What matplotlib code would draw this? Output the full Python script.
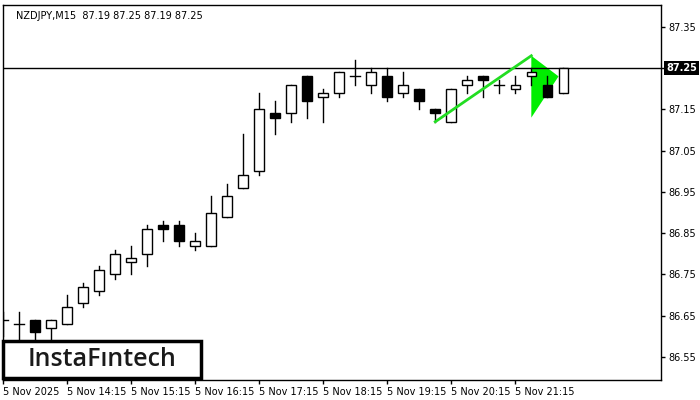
import matplotlib.pyplot as plt
from matplotlib.patches import Rectangle, Polygon

# OHLC data, one candle per 15 minutes starting 5 Nov 13:15
opens = [86.64, 86.63, 86.64, 86.62, 86.63, 86.68, 86.71, 86.75, 86.78, 86.80, 86.87, 86.87,
         86.82, 86.82, 86.89, 86.96, 87.00, 87.14, 87.14, 87.23, 87.18, 87.19, 87.23, 87.21,
         87.23, 87.19, 87.20, 87.15, 87.12, 87.21, 87.23, 87.21, 87.20, 87.23, 87.21, 87.19]
highs = [86.66, 86.66, 86.64, 86.64, 86.70, 86.73, 86.77, 86.81, 86.82, 86.87, 86.88, 86.88,
         86.85, 86.94, 86.97, 87.09, 87.19, 87.17, 87.21, 87.23, 87.20, 87.24, 87.27, 87.25,
         87.25, 87.24, 87.20, 87.15, 87.20, 87.23, 87.23, 87.22, 87.23, 87.25, 87.23, 87.25]
lows = [86.60, 86.59, 86.58, 86.57, 86.63, 86.67, 86.70, 86.74, 86.75, 86.77, 86.83, 86.82,
        86.81, 86.82, 86.89, 86.96, 86.99, 87.09, 87.12, 87.13, 87.12, 87.18, 87.21, 87.19,
        87.17, 87.18, 87.15, 87.12, 87.12, 87.19, 87.18, 87.19, 87.19, 87.21, 87.18, 87.19]
closes = [86.64, 86.63, 86.61, 86.64, 86.67, 86.72, 86.76, 86.80, 86.79, 86.86, 86.86, 86.83,
          86.83, 86.90, 86.94, 86.99, 87.15, 87.13, 87.21, 87.17, 87.19, 87.24, 87.23, 87.24,
          87.18, 87.21, 87.17, 87.14, 87.20, 87.22, 87.22, 87.21, 87.21, 87.24, 87.18, 87.25]

tick_pos = [0, 4, 8, 12, 16, 20, 24, 28, 32]
tick_labels = ["5 Nov 2025", "5 Nov 14:15", "5 Nov 15:15", "5 Nov 16:15", "5 Nov 17:15",
               "5 Nov 18:15", "5 Nov 19:15", "5 Nov 20:15", "5 Nov 21:15"]
price_ticks = [86.55, 86.65, 86.75, 86.85, 86.95, 87.05, 87.15, 87.25, 87.35]
last_price = 87.25

# pennant pattern
pole = ([27, 33], [87.12, 87.28])
flag = [(33, 87.28), (33, 87.13), (34.7, 87.23)]

fig = plt.figure(figsize=(7, 4), dpi=100)
ax = fig.add_axes([3/700, 20/400, 658/700, 375/400])

w = 0.6
for i in range(len(opens)):
    o, h, l, c = opens[i], highs[i], lows[i], closes[i]
    ax.plot([i, i], [l, h], color="black", lw=1, zorder=2)
    lo, hi = min(o, c), max(o, c)
    if hi - lo < 0.002:
        ax.plot([i - w/2, i + w/2], [o, o], color="black", lw=1, zorder=3)
    else:
        ax.add_patch(Rectangle((i - w/2, lo), w, hi - lo, facecolor="black" if c < o else "white",
                               edgecolor="black", lw=1, zorder=3))

ax.plot(pole[0], pole[1], color="#22dd22", lw=2, zorder=4)
ax.add_patch(Polygon(flag, closed=True, facecolor="#00ee00", edgecolor="none", zorder=1))

ax.axhline(last_price, color="black", lw=1, zorder=1)

ax.set_xlim(0, 41.1)
ax.set_ylim(86.494, 87.403)
ax.set_xticks(tick_pos)
ax.set_xticklabels(tick_labels, ha="left", fontsize=7)
ax.yaxis.tick_right()
ax.set_yticks(price_ticks)
# the current price label covers the 87.25 tick label
ax.set_yticklabels(["" if p == last_price else f"{p:.2f}" for p in price_ticks], fontsize=7)
ax.tick_params(length=3, width=1, pad=2)
for s in ax.spines.values():
    s.set_linewidth(1)

ax.text(1.008, (last_price - 86.494) / (87.403 - 86.494), f"{last_price:.2f}", transform=ax.transAxes,
        fontsize=7, color="white", va="center", ha="left", fontweight="bold",
        bbox=dict(facecolor="black", edgecolor="none", pad=1.5))

ax.text(0.02, 0.985, "NZDJPY,M15  87.19 87.25 87.19 87.25", transform=ax.transAxes,
        fontsize=7, va="top", ha="left")

# logo box
fig.patches.append(Rectangle((3/700, 22/400), 198/700, 37/400, transform=fig.transFigure,
                             facecolor="white", edgecolor="black", lw=2.5, zorder=10))
fig.text(102/700, 40/400, "InstaFıntech", fontsize=18, ha="center", va="center", fontweight="semibold",
         color="#1a1a1a", zorder=11, family="Open Sans")

fig.savefig("out.png", dpi=100)
